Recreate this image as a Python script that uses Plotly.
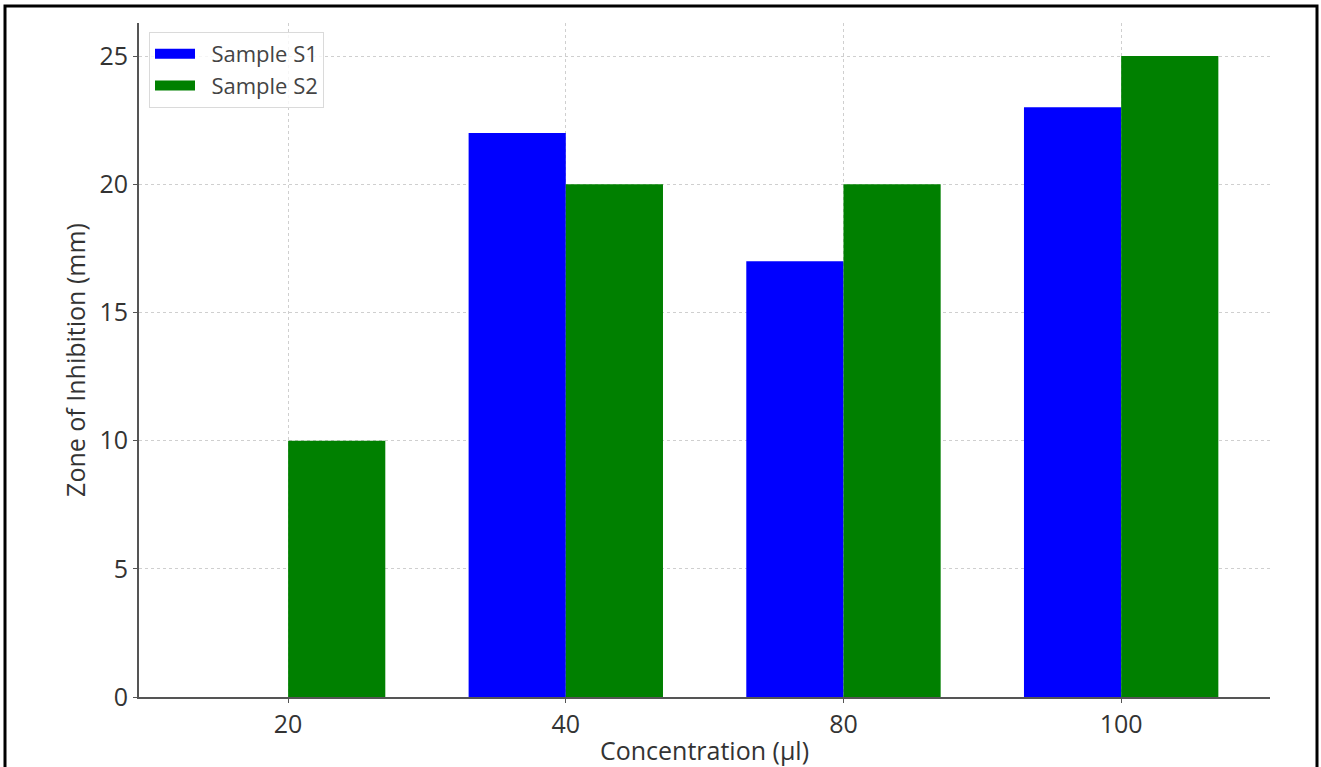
import plotly.graph_objects as go

categories = ["20", "40", "80", "100"]
s1_values = [0, 22, 17, 23]
s2_values = [10, 20, 20, 25]
series_names = ["Sample S1", "Sample S2"]
series_colors = ["#0000ff", "#008000"]
y_ticks = [0, 5, 10, 15, 20, 25]

W, H = 1321, 767
L, R, T, B = 139, 1270, 23, 697
pw, ph = R - L, B - T

FONT = "Open Sans"
TXT = "#333333"
PAD = "\u00a0\u00a0"

fig = go.Figure()
for name, vals, col in zip(series_names, [s1_values, s2_values], series_colors):
    fig.add_trace(go.Bar(x=categories, y=vals, name=name, marker=dict(color=col, line=dict(width=0)),
                         showlegend=False))
    # legend swatch proxy
    fig.add_trace(go.Scatter(x=[None], y=[None], mode="lines", name=PAD + name,
                             line=dict(color=col, width=13)))

fig.update_layout(
    width=W, height=H,
    margin=dict(l=L, r=W - R, t=T, b=H - B),
    paper_bgcolor="white", plot_bgcolor="white",
    barmode="group", bargap=0.3, bargroupgap=0,
    font=dict(family=FONT, color=TXT, size=24),
    legend=dict(x=(149 - L) / pw, y=(B - 32) / ph, xanchor="left", yanchor="top",
                bgcolor="rgba(255,255,255,0.8)", bordercolor="#dadada", borderwidth=1,
                font=dict(size=22, color="#444444"), itemwidth=40, tracegroupgap=0),
    xaxis=dict(type="category", range=[-0.537, 3.536], showline=True, linecolor="#555555", linewidth=2,
               ticks="outside", ticklen=4, tickcolor="#555555", tickfont=dict(size=25, color=TXT),
               showgrid=True, gridcolor="#cfcfcf", griddash="dot", gridwidth=1,
               layer="above traces", zeroline=False, automargin=False,
               title=dict(text="Concentration (µl)", font=dict(size=25, color=TXT), standoff=3)),
    yaxis=dict(range=[0, 26.29], tickvals=y_ticks, showline=True, linecolor="#555555", linewidth=2,
               ticks="outside", ticklen=4, tickcolor="#555555", tickfont=dict(size=25, color=TXT),
               showgrid=True, gridcolor="#cfcfcf", griddash="dot", gridwidth=1,
               layer="above traces", zeroline=False, automargin=False,
               title=dict(text="Zone of Inhibition (mm)", font=dict(size=25, color=TXT), standoff=7)),
)

# outer frame around the figure image
fig.add_shape(type="rect", xref="paper", yref="paper",
              x0=(5 - L) / pw, x1=(1317 - L) / pw,
              y0=(B - 790) / ph, y1=(B - 6) / ph,
              line=dict(color="black", width=3), fillcolor="rgba(0,0,0,0)")

fig.write_html("out.html", config={"displayModeBar": False},
               post_script="document.body.style.margin='0';document.body.style.overflow='hidden';")
